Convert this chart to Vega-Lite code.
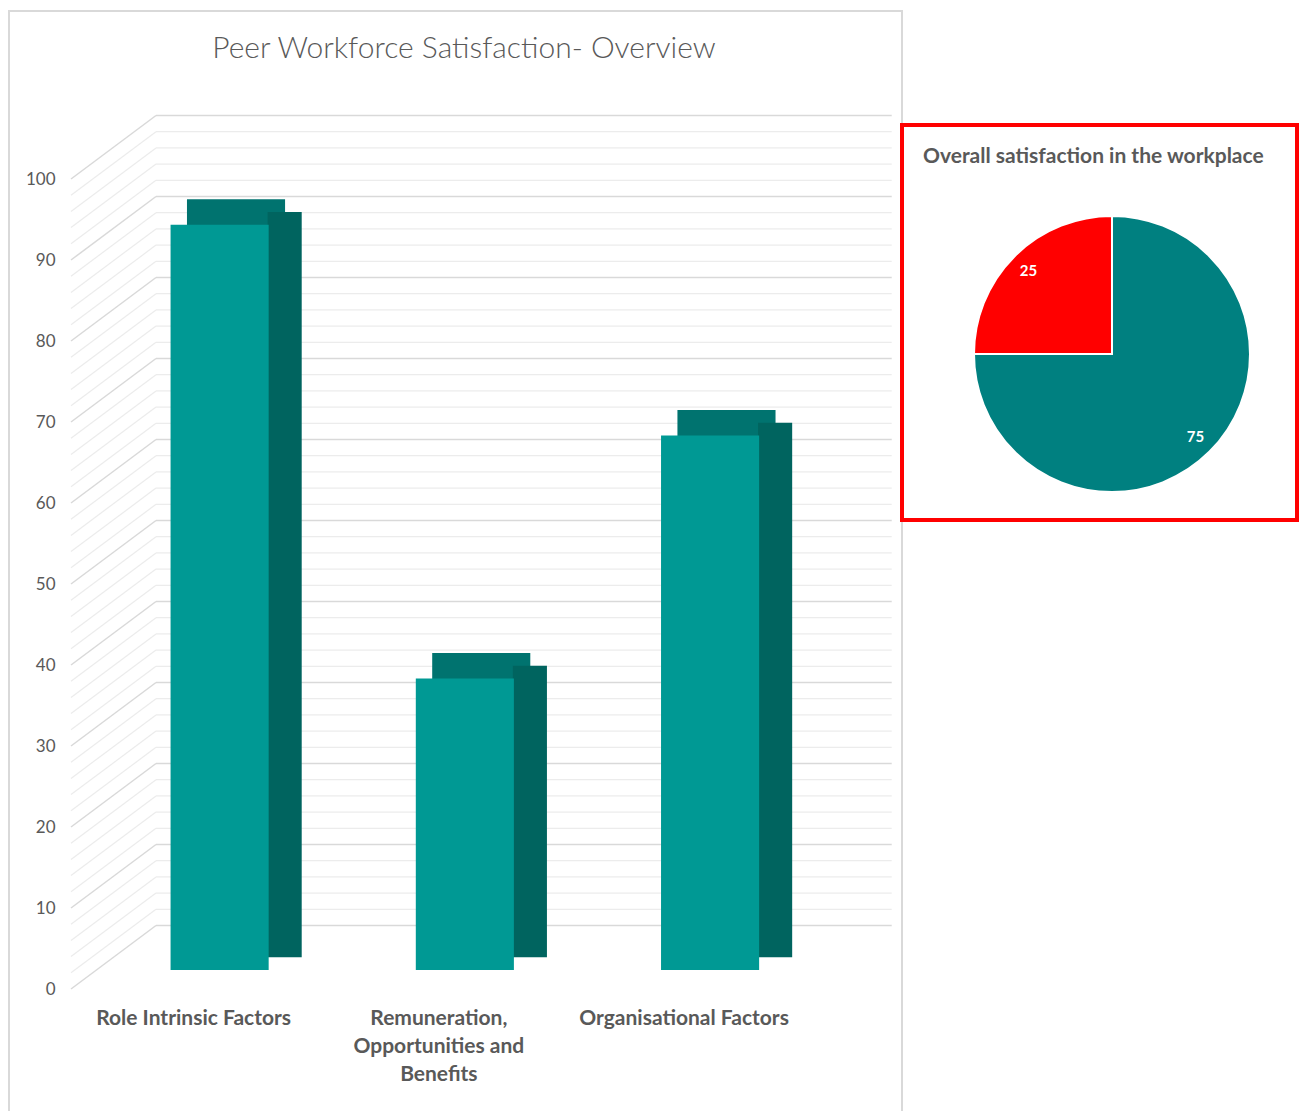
{
  "$schema": "https://vega.github.io/schema/vega-lite/v6.json",
  "padding": {"left": 8, "top": 10, "right": 0, "bottom": 0},
  "autosize": {"type": "pad"},
  "background": "white",
  "config": {"font": "Lato", "view": {"stroke": null}},
  "datasets": {
    "bars": [
      {"category": "Role Intrinsic Factors", "satisfaction": 92},
      {"category": "Remuneration, Opportunities and Benefits", "satisfaction": 36},
      {"category": "Organisational Factors", "satisfaction": 66}
    ],
    "gridMajor": [
      {"level": 0}, {"level": 10}, {"level": 20}, {"level": 30}, {"level": 40}, {"level": 50},
      {"level": 60}, {"level": 70}, {"level": 80}, {"level": 90}, {"level": 100}
    ],
    "gridMinor": [
      {"level": 2}, {"level": 4}, {"level": 6}, {"level": 8},
      {"level": 12}, {"level": 14}, {"level": 16}, {"level": 18},
      {"level": 22}, {"level": 24}, {"level": 26}, {"level": 28},
      {"level": 32}, {"level": 34}, {"level": 36}, {"level": 38},
      {"level": 42}, {"level": 44}, {"level": 46}, {"level": 48},
      {"level": 52}, {"level": 54}, {"level": 56}, {"level": 58},
      {"level": 62}, {"level": 64}, {"level": 66}, {"level": 68},
      {"level": 72}, {"level": 74}, {"level": 76}, {"level": 78},
      {"level": 82}, {"level": 84}, {"level": 86}, {"level": 88},
      {"level": 92}, {"level": 94}, {"level": 96}, {"level": 98}
    ],
    "overall": [
      {"response": "Satisfied", "percent": 75},
      {"response": "Not satisfied", "percent": 25}
    ]
  },
  "bounds": "flush",
  "spacing": 0,
  "hconcat": [
    {
      "width": 893,
      "height": 1101,
      "view": {"stroke": "#d9d9d9", "strokeWidth": 2},
      "title": {
        "text": "Peer Workforce Satisfaction- Overview",
        "anchor": "middle",
        "frame": "group",
        "offset": -53,
        "dx": 8.5,
        "font": "Lato",
        "fontSize": 30,
        "fontWeight": 300,
        "color": "#595959"
      },
      "layer": [
        {
          "data": {"name": "gridMinor"},
          "mark": {"type": "rule", "color": "#ececec", "strokeWidth": 1.2},
          "encoding": {
            "x": {"datum": "Role Intrinsic Factors", "type": "nominal", "bandPosition": 0,
                  "scale": {"domain": ["Role Intrinsic Factors", "Remuneration, Opportunities and Benefits", "Organisational Factors"], "range": [147, 882.7], "paddingInner": 0, "paddingOuter": 0}},
            "x2": {"datum": "Organisational Factors", "bandPosition": 1},
            "y": {"field": "level", "type": "quantitative", "title": null,
                  "scale": {"domain": [0, 100], "range": [914.5, 104.5], "nice": false, "zero": false}}
          }
        },
        {
          "data": {"name": "gridMinor"},
          "mark": {"type": "rule", "color": "#ececec", "strokeWidth": 1.2, "xOffset": -85, "yOffset": 63.5},
          "encoding": {
            "x": {"datum": "Role Intrinsic Factors", "type": "nominal", "bandPosition": 0},
            "x2": {"datum": "Role Intrinsic Factors", "bandPosition": 0},
            "y": {"field": "level", "type": "quantitative", "title": null},
            "y2": {"field": "level"}
          }
        },
        {
          "data": {"name": "gridMajor"},
          "mark": {"type": "rule", "color": "#d9d9d9", "strokeWidth": 1.5},
          "encoding": {
            "x": {"datum": "Role Intrinsic Factors", "type": "nominal", "bandPosition": 0},
            "x2": {"datum": "Organisational Factors", "bandPosition": 1},
            "y": {"field": "level", "type": "quantitative", "title": null}
          }
        },
        {
          "data": {"name": "gridMajor"},
          "mark": {"type": "rule", "color": "#d9d9d9", "strokeWidth": 1.5, "xOffset": -85, "yOffset": 63.5},
          "encoding": {
            "x": {"datum": "Role Intrinsic Factors", "type": "nominal", "bandPosition": 0},
            "x2": {"datum": "Role Intrinsic Factors", "bandPosition": 0},
            "y": {"field": "level", "type": "quantitative", "title": null},
            "y2": {"field": "level"}
          }
        },
        {
          "data": {"name": "bars"},
          "mark": {"type": "bar", "color": "#00736f", "width": {"band": 0.4}, "xOffset": -42.6, "yOffset": 19, "y2Offset": 45.5},
          "encoding": {
            "x": {"field": "category", "type": "nominal", "title": null},
            "y": {"field": "satisfaction", "type": "quantitative", "title": null},
            "y2": {"field": "satisfaction"}
          }
        },
        {
          "data": {"name": "bars"},
          "mark": {"type": "bar", "color": "#00645f", "width": {"band": 0.139}, "xOffset": 6.05, "yOffset": 31.75, "y2Offset": 31.75},
          "encoding": {
            "x": {"field": "category", "type": "nominal", "title": null},
            "y": {"field": "satisfaction", "type": "quantitative", "title": null},
            "y2": {"datum": 0}
          }
        },
        {
          "data": {"name": "bars"},
          "mark": {"type": "bar", "color": "#009994", "width": {"band": 0.4}, "xOffset": -59, "yOffset": 44.5, "y2Offset": 44.5},
          "encoding": {
            "x": {"field": "category", "type": "nominal", "title": null,
                  "axis": {"title": null, "domain": false, "ticks": false, "grid": false, "labelAngle": 0,
                           "labelAlign": "center",
                           "labelOffset": -85, "labelFontSize": 21, "labelFontWeight": "bold", "labelFont": "Lato",
                           "labelColor": "#595959", "labelBaseline": "top", "labelLineHeight": 28, "labelLimit": 400,
                           "labelPadding": 2, "offset": -107, "labelBound": false, "labelOverlap": false,
                           "labelExpr": "datum.label == 'Remuneration, Opportunities and Benefits' ? ['Remuneration,', 'Opportunities and', 'Benefits'] : datum.label"}},
            "y": {"field": "satisfaction", "type": "quantitative", "title": null,
                  "axis": {"title": null, "domain": false, "ticks": false, "grid": false,
                           "values": [0, 10, 20, 30, 40, 50, 60, 70, 80, 90, 100],
                           "labelOffset": 63.5, "offset": -48, "labelPadding": 2, "labelFontSize": 17,
                           "labelFont": "Lato", "labelColor": "#595959", "labelFlush": false,
                           "labelOverlap": false, "labelBound": false, "labelBaseline": "middle"}},
            "y2": {"datum": 0}
          }
        }
      ]
    },
    {
      "bounds": "flush",
      "spacing": 0,
      "vconcat": [
        {
          "width": 395,
          "height": 114,
          "data": {"values": []},
          "mark": "point",
          "view": {"stroke": null}
        },
        {
          "width": 395,
          "height": 395,
          "view": {"stroke": "#ff0000", "strokeWidth": 4},
          "title": {
            "text": "Overall satisfaction in the workplace",
            "anchor": "start",
            "frame": "group",
            "dx": 21,
            "offset": -42,
            "font": "Lato",
            "fontSize": 21,
            "fontWeight": "bold",
            "color": "#595959"
          },
          "data": {"name": "overall"},
          "encoding": {
            "theta": {"field": "percent", "type": "quantitative", "stack": true},
            "order": {"field": "percent", "type": "quantitative", "sort": "descending"}
          },
          "layer": [
            {
              "mark": {"type": "arc", "radius": 138, "stroke": "white", "strokeWidth": 2, "xOffset": 12.5, "yOffset": 31.5},
              "encoding": {
                "color": {"field": "response", "type": "nominal",
                          "scale": {"domain": ["Satisfied", "Not satisfied"], "range": ["#008080", "#ff0000"]},
                          "legend": null}
              }
            },
            {
              "mark": {"type": "text", "radius": 118, "xOffset": 12.5, "yOffset": 31.5, "fontSize": 15,
                       "fontWeight": "bold", "font": "Lato", "color": "white"},
              "encoding": {
                "text": {"field": "percent", "type": "quantitative"}
              }
            }
          ]
        }
      ]
    }
  ]
}
